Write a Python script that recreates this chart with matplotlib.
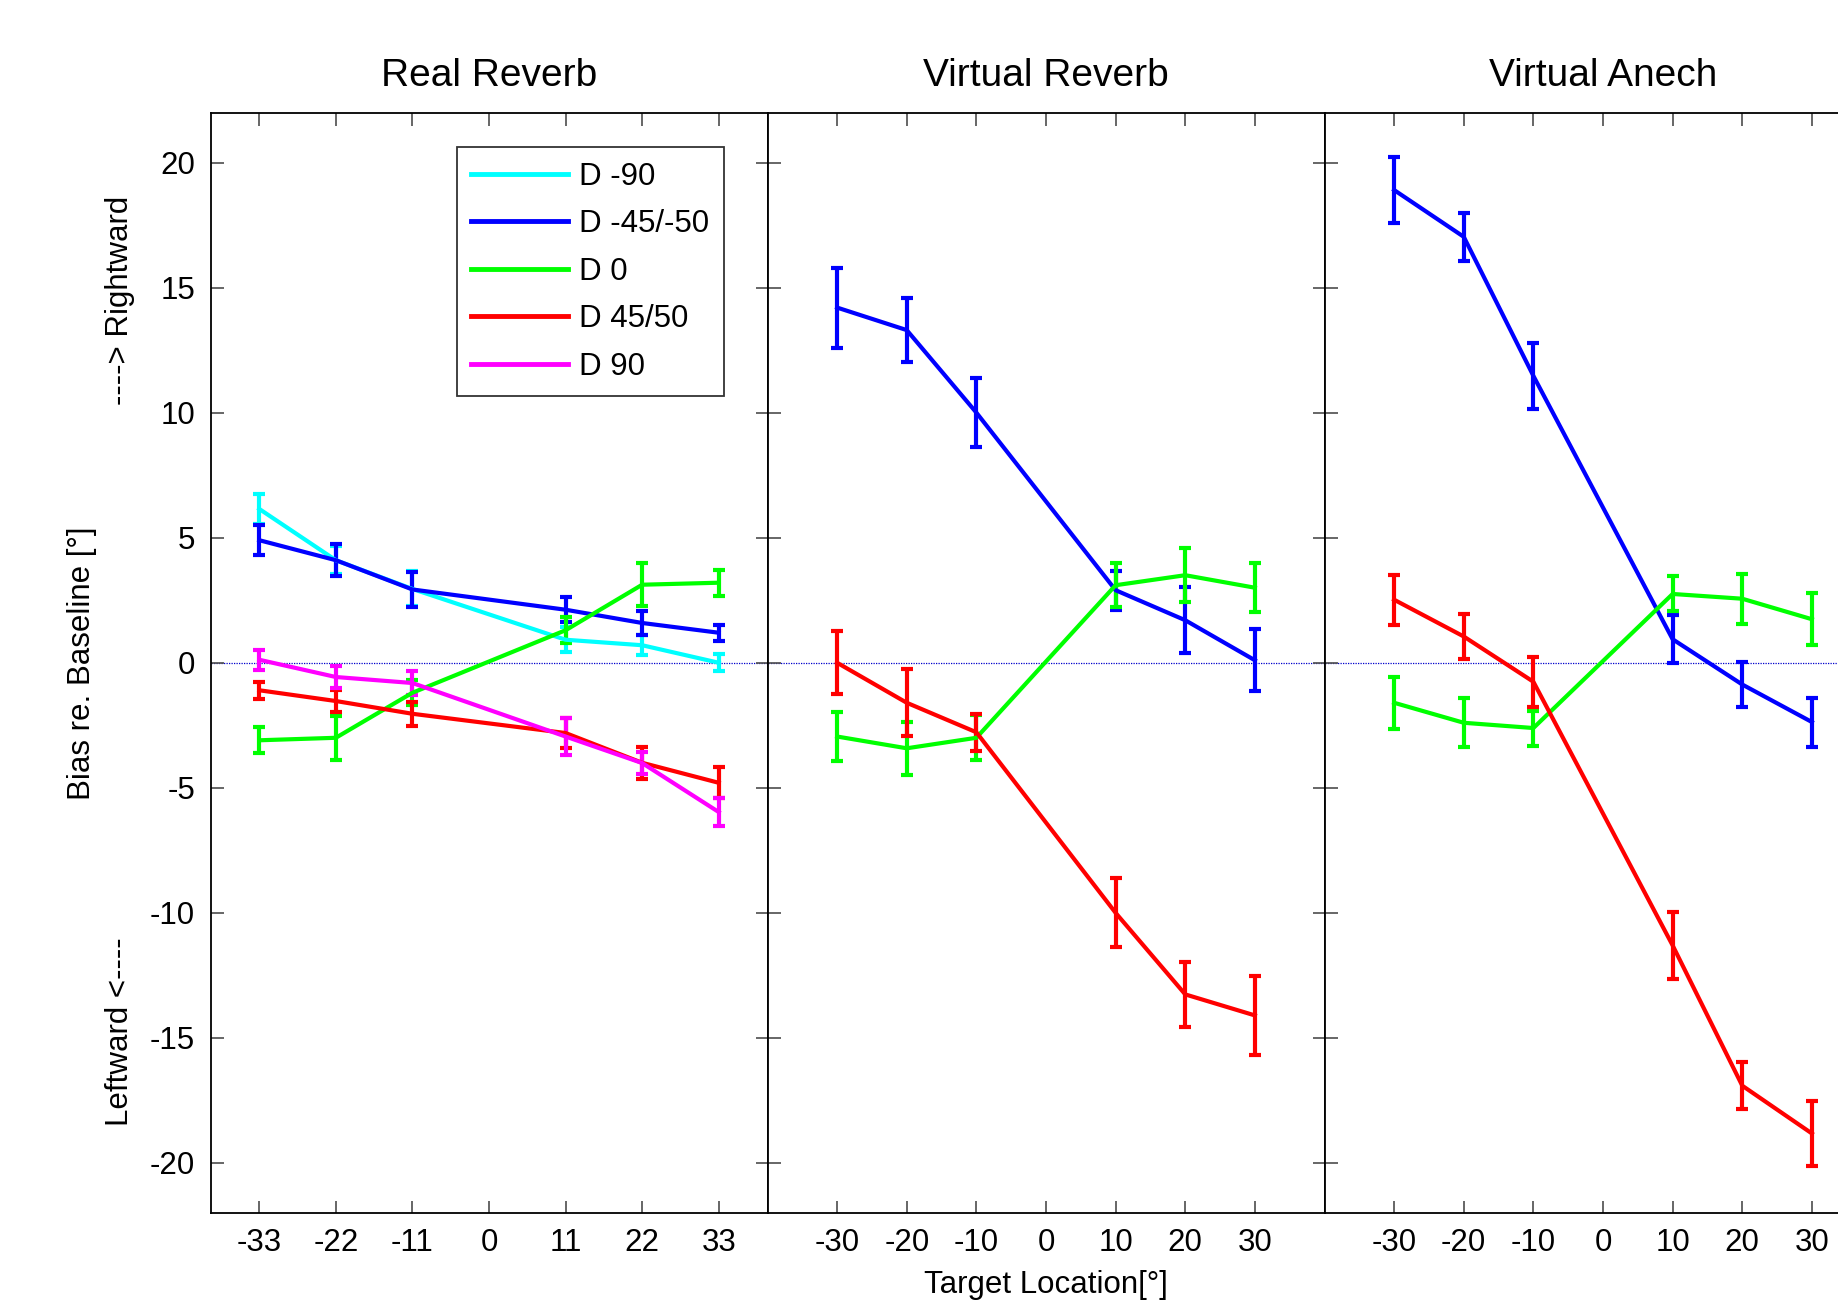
import matplotlib
matplotlib.use("Agg")
import matplotlib.pyplot as plt

plt.rcParams['font.family'] = ['Liberation Sans', 'DejaVu Sans']
plt.rcParams['axes.unicode_minus'] = False

# ---------------- data ----------------
panel_titles = ["Real Reverb", "Virtual Reverb", "Virtual Anech"]
x_real = [-33, -22, -11, 11, 22, 33]
x_virt = [-30, -20, -10, 10, 20, 30]
xticks_real = [-33, -22, -11, 0, 11, 22, 33]
xticks_virt = [-30, -20, -10, 0, 10, 20, 30]
yticks = [-20, -15, -10, -5, 0, 5, 10, 15, 20]

series_names = ["D -90", "D -45/-50", "D 0", "D 45/50", "D 90"]
series_colors = ["#00FFFF", "#0000FF", "#00FF00", "#FF0000", "#FF00FF"]

# Real Reverb
rr_m90 = [6.15, 4.1, 2.95, 0.92, 0.7, 0.0]
rr_m90_err = [0.6, 0.55, 0.7, 0.5, 0.4, 0.33]
rr_m45 = [4.9, 4.1, 2.93, 2.12, 1.59, 1.2]
rr_m45_err = [0.6, 0.65, 0.7, 0.5, 0.48, 0.32]
rr_0 = [-3.1, -3.0, -1.2, 1.3, 3.12, 3.2]
rr_0_err = [0.52, 0.87, 0.5, 0.53, 0.87, 0.52]
rr_45 = [-1.1, -1.53, -2.04, -2.81, -4.0, -4.8]
rr_45_err = [0.33, 0.45, 0.49, 0.6, 0.63, 0.62]
rr_90 = [0.12, -0.57, -0.81, -2.95, -4.01, -5.97]
rr_90_err = [0.4, 0.43, 0.48, 0.75, 0.45, 0.55]

# Virtual Reverb
vr_m45 = [14.2, 13.3, 10.0, 2.9, 1.7, 0.1]
vr_m45_err = [1.6, 1.28, 1.37, 0.78, 1.33, 1.23]
vr_0 = [-2.95, -3.42, -3.0, 3.1, 3.5, 3.0]
vr_0_err = [0.97, 1.05, 0.9, 0.87, 1.08, 0.98]
vr_45 = [0.0, -1.6, -2.78, -10.0, -13.26, -14.1]
vr_45_err = [1.25, 1.34, 0.75, 1.38, 1.29, 1.59]

# Virtual Anech
va_m45 = [18.9, 17.03, 11.47, 0.94, -0.87, -2.37]
va_m45_err = [1.33, 0.95, 1.33, 0.95, 0.9, 0.98]
va_0 = [-1.6, -2.4, -2.61, 2.75, 2.56, 1.74]
va_0_err = [1.05, 0.98, 0.7, 0.7, 1.0, 1.03]
va_45 = [2.52, 1.05, -0.76, -11.3, -16.91, -18.82]
va_45_err = [1.0, 0.9, 1.0, 1.34, 0.95, 1.3]

panels = [
    (x_real, xticks_real, [(0, rr_m90, rr_m90_err), (1, rr_m45, rr_m45_err),
                           (2, rr_0, rr_0_err), (3, rr_45, rr_45_err),
                           (4, rr_90, rr_90_err)]),
    (x_virt, xticks_virt, [(1, vr_m45, vr_m45_err), (2, vr_0, vr_0_err),
                           (3, vr_45, vr_45_err)]),
    (x_virt, xticks_virt, [(1, va_m45, va_m45_err), (2, va_0, va_0_err),
                           (3, va_45, va_45_err)]),
]

# ---------------- figure ----------------
W, H = 1838, 1308
fig = plt.figure(figsize=(W / 100, H / 100), dpi=100)

FS = 22.5
left0 = 210.5 / W
pw = 557 / W
bottom = 1 - 1213 / H
ph = (1213 - 112.5) / H

axes = []
legend_handles = []
for i, (xs, xt, series) in enumerate(panels):
    ax = fig.add_axes([left0 + i * pw, bottom, pw, ph])
    axes.append(ax)
    ax.axhline(0, color="#0000CC", lw=0.9, ls=(0, (1, 1)), zorder=1)
    for idx, vals, errs in series:
        cont = ax.errorbar(xs, vals, yerr=errs, color=series_colors[idx],
                           lw=3.0, elinewidth=3.0, capsize=4.5, capthick=3.0,
                           label=series_names[idx], zorder=2)
        if i == 0:
            legend_handles.append(cont[0])
    ax.set_xlim(-40, 40)
    ax.set_ylim(-22, 22)
    ax.set_xticks(xt)
    ax.set_yticks(yticks)
    ax.tick_params(axis="both", which="both", direction="in", top=True,
                   right=True, length=9, width=1.2, color="0.3",
                   labelsize=FS, pad=11)
    if i > 0:
        ax.tick_params(axis="y", labelleft=False)
    for sp in ax.spines.values():
        sp.set_linewidth(1.3)
        sp.set_color("black")
    ax.set_title(panel_titles[i], fontsize=28, pad=19)

leg = axes[0].legend(legend_handles, series_names, loc="upper left",
                     bbox_to_anchor=(0.4417, 0.9687),
                     borderaxespad=0, fontsize=FS, frameon=True,
                     fancybox=False, edgecolor="black", handlelength=3.1,
                     handletextpad=0.35, labelspacing=0.56, borderpad=0.47)
leg.get_frame().set_linewidth(1.3)
for lh in leg.get_lines():
    lh.set_linewidth(3.5)

fig.text(82 / W, 1 - 663 / H, "Bias re. Baseline [°]", rotation=90,
         ha="center", va="center", fontsize=FS)
fig.text(120 / W, 1 - 300 / H, "----> Rightward", rotation=90,
         ha="center", va="center", fontsize=FS)
fig.text(120 / W, 1 - 1032 / H, "Leftward <----", rotation=90,
         ha="center", va="center", fontsize=FS)
fig.text(1046 / W, 1 - 1285 / H, "Target Location[°]", ha="center",
         va="center", fontsize=FS)

fig.savefig("out.png", dpi=100)
